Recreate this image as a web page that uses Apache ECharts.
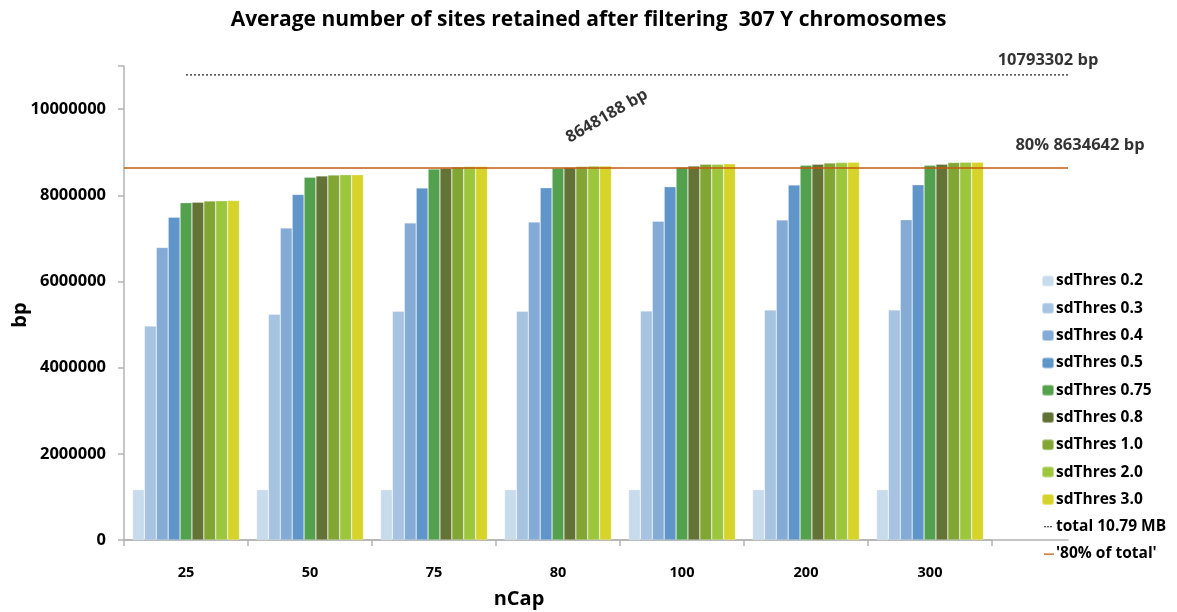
<!DOCTYPE html>
<html>
<head>
<meta charset="utf-8">
<script src="https://cdn.jsdelivr.net/npm/echarts@6/dist/echarts.min.js"></script>
<style>html,body{margin:0;padding:0;background:#fff}#c{width:1177px;height:612px}</style>
</head>
<body>
<div id="c"></div>
<script>
const categories = ['25','50','75','80','100','200','300'];
const seriesNames = ['sdThres 0.2','sdThres 0.3','sdThres 0.4','sdThres 0.5','sdThres 0.75','sdThres 0.8','sdThres 1.0','sdThres 2.0','sdThres 3.0'];
const s02  = [1170000,1170000,1170000,1170000,1170000,1170000,1170000];
const s03  = [4965000,5240000,5310000,5310000,5315000,5340000,5340000];
const s04  = [6790000,7240000,7360000,7380000,7400000,7430000,7435000];
const s05  = [7490000,8020000,8170000,8175000,8200000,8240000,8245000];
const s075 = [7830000,8420000,8610000,8630000,8650000,8700000,8700000];
const s08  = [7840000,8450000,8630000,8648188,8680000,8720000,8720000];
const s10  = [7870000,8470000,8660000,8670000,8720000,8750000,8760000];
const s20  = [7875000,8480000,8670000,8680000,8720000,8760000,8770000];
const s30  = [7880000,8480000,8670000,8680000,8730000,8770000,8770000];
const seriesValues = [s02,s03,s04,s05,s075,s08,s10,s20,s30];
const yTicks = [0,2000000,4000000,6000000,8000000,10000000];
const totalBp = 10793302;
const eightyBp = 8634642;
const noteBp = 8648188;
const noteCategory = '80';
const totalName = 'total 10.79 MB';
const eightyName = "'80% of total'";
// extended reference axis, measured in category widths
const refStart = 0, refDottedStart = 0.5, refEnd = 7.613;

const colors = ['#c8dbed','#a6c3e1','#84abd5','#6095c9','#53a14d','#627335','#82a633','#9cc73d','#d6d32b'];
const FONT = 'Open Sans';
const lineBox = 'M0,0h0.05v0.05h-0.05z M11.95,10.95h0.05v0.05h-0.05z ';

const barSeries = seriesNames.map((n,i)=>({
  name:n, type:'bar', xAxisIndex:0, yAxisIndex:0,
  data: seriesValues[i],
  barGap:'0%', barCategoryGap:'13.7%',
  itemStyle:{color:colors[i], borderColor:'rgba(255,255,255,0.45)', borderWidth:0.6},
  emphasis:{disabled:true}, z:2
}));

const txt = {fontFamily:FONT, fontWeight:'bold', color:'#000'};

const option = {
  animation:false,
  backgroundColor:'#fff',
  title:{text:'Average number of sites retained after filtering  307 Y chromosomes', left:'center', top:5,
    textStyle:{...txt, fontSize:21}},
  legend:{orient:'vertical', left:1036, top:268, itemWidth:12, itemHeight:11, itemGap:11.3,
    textStyle:{...txt, fontSize:15.5, padding:[0,0,0,-3]},
    data:[...seriesNames,
      {name:totalName, icon:'path://'+lineBox+'M2,5h2v1h-2z M5,5h2v1h-2z M8,5h2v1h-2z', itemStyle:{color:'#222'}},
      {name:eightyName, icon:'path://'+lineBox+'M2,5h10v1.3h-10z', itemStyle:{color:'#c55a11'}}]},
  grid:[
    {left:124, right:185, top:66, bottom:72, containLabel:false, outerBoundsMode:'none'},
    {left:124, right:109, top:66, bottom:72, containLabel:false, outerBoundsMode:'none'}
  ],
  xAxis:[
    {type:'category', gridIndex:0, data:categories,
      axisLine:{lineStyle:{color:'#b3b3b3', width:1.5}},
      axisTick:{show:true, length:6, lineStyle:{color:'#b3b3b3', width:1.5}},
      axisLabel:{...txt, fontSize:14.5, margin:25},
      name:'nCap', nameLocation:'middle', nameGap:49,
      nameTextStyle:{...txt, fontSize:20, padding:[0,78,0,0]}},
    {type:'value', gridIndex:1, min:refStart, max:refEnd,
      axisLine:{show:true, lineStyle:{color:'#b3b3b3', width:1.5}},
      axisTick:{show:false}, axisLabel:{show:false}, splitLine:{show:false}}
  ],
  yAxis:[
    {type:'value', gridIndex:0, min:0, max:11000000, interval:2000000,
      axisLine:{show:true, lineStyle:{color:'#b3b3b3', width:1.5}},
      axisTick:{show:true, length:6, lineStyle:{color:'#b3b3b3', width:1.5}},
      splitLine:{show:false},
      axisLabel:{...txt, fontSize:16.5, margin:18,
        formatter:v=> yTicks.includes(v) ? String(v) : ''},
      name:'bp', nameLocation:'middle', nameGap:104, nameRotate:90, nameMoveOverlap:false,
      nameTextStyle:{...txt, fontSize:20, padding:[0,24,0,0], align:'center', verticalAlign:'middle'}},
    {type:'value', gridIndex:1, min:0, max:11000000, show:false}
  ],
  series:[
    ...barSeries,
    {name:totalName, type:'line', xAxisIndex:1, yAxisIndex:1, symbol:'none', z:3,
      lineStyle:{color:'#222', width:1.2, type:[2,2]}, itemStyle:{color:'#222'},
      data:[[refDottedStart,totalBp],[refEnd,totalBp]]},
    {name:eightyName, type:'line', xAxisIndex:1, yAxisIndex:1, symbol:'none', z:4,
      lineStyle:{color:'#c55a11', width:1.5}, itemStyle:{color:'#c55a11'},
      data:[[refStart,eightyBp],[refEnd,eightyBp]]},
    {type:'scatter', xAxisIndex:1, yAxisIndex:1, symbolSize:0, z:5, silent:true, clip:false,
      data:[
        {value:[refEnd,totalBp], label:{show:true, position:'inside', offset:[-20,-15],
          formatter:totalBp+' bp', ...txt, fontSize:16.5}},
        {value:[refEnd,eightyBp], label:{show:true, position:'inside', offset:[12,-23],
          formatter:'80% '+eightyBp+' bp', ...txt, fontSize:16.5}}
      ]},
    {type:'scatter', xAxisIndex:0, yAxisIndex:0, symbolSize:0, z:5, silent:true, clip:false,
      data:[{value:[noteCategory,noteBp], label:{show:true, position:'inside', offset:[68,-20], rotate:30,
        formatter:noteBp+' bp', ...txt, fontSize:16.5}}]}
  ]
};
echarts.init(document.getElementById('c'),null,{renderer:'canvas'}).setOption(option);
</script>
</body>
</html>
